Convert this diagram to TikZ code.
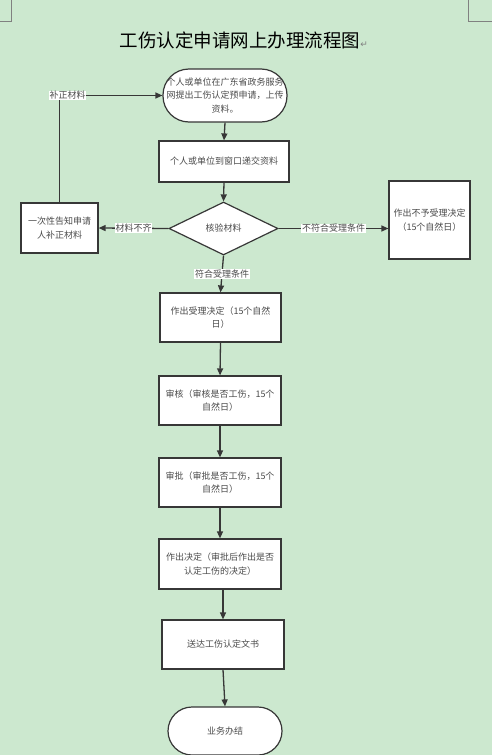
\documentclass[tikz,border=0pt]{standalone}
\usepackage{fontspec}
\newfontfamily\cjk{Noto Sans CJK SC}
\newfontfamily\dejavu{DejaVu Sans}
\usetikzlibrary{shapes.geometric,arrows.meta}
\definecolor{bg}{RGB}{204,232,207}
\definecolor{ln}{RGB}{55,55,55}
\definecolor{tx}{RGB}{75,75,75}
\begin{document}
\begin{tikzpicture}[x=1pt,y=-1pt,
  every node/.style={font=\cjk\fontsize{9}{13.5}\selectfont, text=tx},
  box/.style={draw=ln, line width=1.2pt, fill=white, rectangle, inner sep=0pt, align=center},
  pill/.style={box, rounded corners=#1},
  dia/.style={box, diamond},
  conn/.style={draw=ln, line width=1.3pt, -{Triangle[length=7pt,width=6pt]}},
  lab/.style={fill=white, inner sep=0.6pt}
]
\fill[bg] (0,0) rectangle (492,755);
\useasboundingbox (0,0) rectangle (492,755);
\draw[gray, line width=0.6pt] (11.5,0) -- (11.5,21) -- (0,21);
\draw[gray, line width=0.6pt] (468.5,0) -- (468.5,21) -- (492,21);

\node[font=\cjk\fontsize{18.5}{20}\selectfont, text=black] (title) at (244,40)
  {工伤认定申请网上办理流程图{\dejavu\fontsize{9}{9}\selectfont\color{gray}↵}};

\node[pill=26pt, minimum width=124pt, minimum height=53pt] (n1) at (225,95.5)
  {个人或单位在广东省政务服务\\网提出工伤认定预申请，上传\\资料。};
\node[box, minimum width=130pt, minimum height=41pt] (n2) at (224,161.5)
  {个人或单位到窗口递交资料};
\node[dia, minimum width=109pt, minimum height=53pt] (d) at (223.5,228.5) {核验材料};
\node[box, minimum width=77pt, minimum height=50pt] (lbox) at (59.5,228)
  {一次性告知申请\\人补正材料};
\node[box, minimum width=81pt, minimum height=78pt] (rbox) at (429.5,220)
  {作出不予受理决定\\（15个自然日）};
\node[box, minimum width=121pt, minimum height=49pt] (b3) at (220.5,317.5)
  {作出受理决定（15个自然\\日）};
\node[box, minimum width=122pt, minimum height=49pt] (b4) at (220,400.5)
  {审核（审核是否工伤，15个\\自然日）};
\node[box, minimum width=122pt, minimum height=49pt] (b5) at (220,482.5)
  {审批（审批是否工伤，15个\\自然日）};
\node[box, minimum width=122pt, minimum height=50pt] (b6) at (220,564)
  {作出决定（审批后作出是否\\认定工伤的决定）};
\node[box, minimum width=122pt, minimum height=49pt] (b7) at (223,644.5)
  {送达工伤认定文书};
\node[pill=24pt, minimum width=114pt, minimum height=48pt] (end) at (225,731)
  {业务办结};

\draw[conn] (n1.south) -- (n2.north);
\draw[conn] (n2.south) -- (d.north);
\draw[conn] (d.west) -- node[lab]{材料不齐} (lbox.east);
\draw[conn] (d.east) -- node[lab]{不符合受理条件} (d.east -| rbox.west);
\draw[conn] (d.south) -- node[lab]{符合受理条件} (b3.north);
\draw[conn] (b3.south) -- (b4.north);
\draw[conn] (b4.south) -- (b5.north);
\draw[conn] (b5.south) -- (b6.north);
\draw[conn] (b6.south -| b7.north) -- (b7.north);
\draw[conn] (b7.south) -- (end.north);
\draw[conn] (lbox.north) |- node[lab, pos=0.54]{补正材料} (n1.west);
\end{tikzpicture}
\end{document}
